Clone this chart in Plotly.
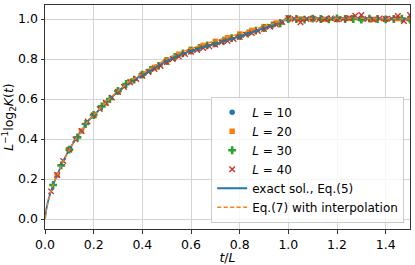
import plotly.graph_objects as go

# ---- data ----
L_values = [10, 20, 30, 40]

y_L10 = [0.347, 0.518, 0.638, 0.72, 0.792, 0.84, 0.876, 0.913, 0.954, 1.0,
         1.0, 0.998, 1.002, 1.0, 1.0]

y_L20 = [0.22, 0.347, 0.44, 0.518, 0.58, 0.638, 0.687, 0.724, 0.758, 0.795,
         0.824, 0.848, 0.868, 0.888, 0.906, 0.925, 0.943, 0.962, 0.98, 1.0,
         1.0, 1.002, 0.998, 1.0, 1.003, 1.0, 0.998, 1.0, 1.002, 1.0]

y_L30 = [0.17, 0.268, 0.347, 0.408, 0.475, 0.52, 0.563, 0.6, 0.64, 0.675,
         0.697, 0.722, 0.745, 0.766, 0.79, 0.81, 0.828, 0.842, 0.856, 0.868,
         0.878, 0.892, 0.904, 0.914, 0.928, 0.942, 0.955, 0.968, 0.978, 1.0,
         1.0, 0.997, 1.002, 1.0, 0.998, 1.003, 1.0, 1.0, 0.997, 1.002,
         1.0, 0.998, 1.0, 1.002, 0.997]

y_L40 = [0.138, 0.22, 0.29, 0.347, 0.398, 0.44, 0.488, 0.518, 0.55, 0.58,
         0.607, 0.635, 0.66, 0.683, 0.7, 0.716, 0.735, 0.75, 0.765, 0.785,
         0.8, 0.812, 0.825, 0.836, 0.845, 0.855, 0.863, 0.872, 0.884, 0.89,
         0.9, 0.91, 0.922, 0.93, 0.94, 0.95, 0.962, 0.972, 0.985, 1.005,
         1.0, 0.984, 1.0, 1.002, 0.997, 1.0, 1.003, 0.998, 1.0, 1.005,
         1.016, 1.02, 1.0, 0.997, 1.003, 1.0, 1.002, 1.015, 0.99, 1.02]

series_y = {10: y_L10, 20: y_L20, 30: y_L30, 40: y_L40}

t_exact = [0.0, 0.005, 0.01, 0.015, 0.025, 0.033, 0.05, 0.067, 0.075, 0.1,
           0.125, 0.15, 0.175, 0.2, 0.25, 0.3, 0.35, 0.4, 0.45, 0.5,
           0.55, 0.6, 0.65, 0.7, 0.75, 0.8, 0.85, 0.9, 0.95, 1.0, 1.5]
y_exact = [0.0, 0.045, 0.075, 0.1, 0.14, 0.17, 0.22, 0.268, 0.29, 0.347,
           0.398, 0.44, 0.488, 0.518, 0.58, 0.638, 0.685, 0.72, 0.756, 0.79,
           0.818, 0.84, 0.858, 0.876, 0.894, 0.913, 0.933, 0.954, 0.976, 1.0, 1.0]

t_interp = [0.0, 0.005, 0.01, 0.015, 0.025, 0.033, 0.05, 0.067, 0.075, 0.1,
            0.125, 0.15, 0.175, 0.2, 0.25, 0.3, 0.35, 0.4, 0.45, 0.5,
            0.55, 0.6, 0.65, 0.7, 0.75, 0.8, 0.85, 0.9, 0.95, 1.0, 1.5]
y_interp = [0.0, 0.045, 0.075, 0.1, 0.14, 0.17, 0.22, 0.268, 0.29, 0.347,
            0.398, 0.44, 0.488, 0.52, 0.582, 0.641, 0.69, 0.727, 0.764, 0.8,
            0.829, 0.852, 0.872, 0.891, 0.909, 0.927, 0.945, 0.963, 0.981, 1.0, 1.0]

x_ticks = [0.0, 0.2, 0.4, 0.6, 0.8, 1.0, 1.2, 1.4]
y_ticks = [0.0, 0.2, 0.4, 0.6, 0.8, 1.0]

colors = {10: "#1f77b4", 20: "#ff7f0e", 30: "#2ca02c", 40: "#d62728"}
symbols = {10: "circle", 20: "square", 30: "cross", 40: "x-thin-open"}
sizes = {10: 5.5, 20: 5.5, 30: 6.5, 40: 5.5}

fig = go.Figure()
for L in L_values:
    ys = series_y[L]
    xs = [(k + 1) / L for k in range(len(ys))]
    mk = dict(color=colors[L], symbol=symbols[L], size=sizes[L])
    if L == 40:
        mk["line"] = dict(color=colors[L], width=1.3)
    else:
        mk["line"] = dict(width=0)
    fig.add_trace(go.Scatter(x=xs, y=ys, mode="markers", marker=mk,
                             name=f"<i>L</i> = {L}"))

fig.add_trace(go.Scatter(x=t_exact, y=y_exact, mode="lines",
                         line=dict(color="#1f77b4", width=1.8, shape="spline", smoothing=0.6),
                         name="exact sol., Eq.(5)"))
fig.add_trace(go.Scatter(x=t_interp, y=y_interp, mode="lines",
                         line=dict(color="#ff7f0e", width=1.5, dash="4px,2.5px", shape="spline", smoothing=0.6),
                         name="Eq.(7) with interpolation"))

axis_common = dict(showline=True, linecolor="#333", linewidth=1, mirror=True,
                   ticks="outside", ticklen=3.5, tickcolor="#333",
                   showgrid=True, gridcolor="#d4d4d4", gridwidth=1,
                   zeroline=False, automargin=False,
                   tickfont=dict(size=12.5, color="black"))

fig.update_layout(
    width=415, height=265,
    margin=dict(l=45, r=5, t=5, b=36),
    paper_bgcolor="white", plot_bgcolor="white",
    font=dict(family="DejaVu Sans", size=12, color="black"),
    xaxis=dict(range=[0, 1.5], tickvals=x_ticks, tickformat=".1f",
               title=dict(text="<i>t</i>/<i>L</i>", standoff=2, font=dict(size=12.5)),
               **axis_common),
    yaxis=dict(range=[-0.05, 1.07], tickvals=y_ticks, tickformat=".1f",
               title=dict(text="<i>L</i><sup>−1</sup>log<sub>2</sub><i>K</i>(<i>t</i>)",
                          standoff=5, font=dict(size=12.5)),
               **axis_common),
    legend=dict(x=0.984, y=0.028, xanchor="right", yanchor="bottom",
                bgcolor="rgba(255,255,255,0.8)", bordercolor="#cccccc", borderwidth=1,
                font=dict(size=12), tracegroupgap=0, itemwidth=30),
    showlegend=True,
)

fig.write_html("out.html",
               config={"displayModeBar": False},
               post_script="document.body.style.margin='0';document.body.style.overflow='hidden';")
